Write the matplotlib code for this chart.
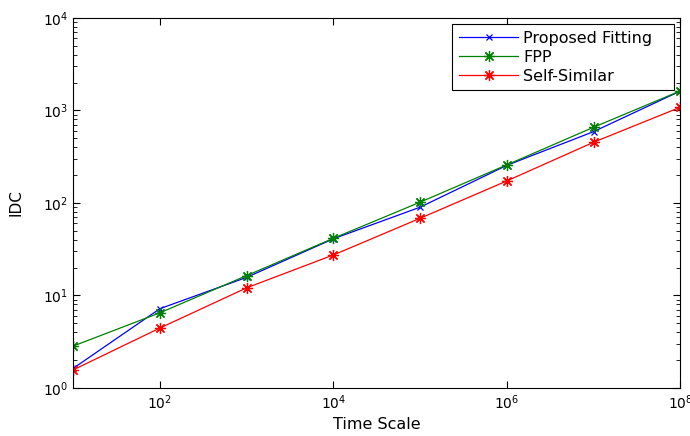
import matplotlib
matplotlib.use("Agg")
import matplotlib.pyplot as plt
from matplotlib.ticker import LogLocator, NullLocator, LogFormatterMathtext

plt.rcParams['font.family'] = ['DejaVu Sans']

# time scales (aggregation levels)
time_scale = [1e1, 1e2, 1e3, 1e4, 1e5, 1e6, 1e7, 1e8]

# index of dispersion for counts per model
idc_proposed = [1.63, 7.2, 15.7, 41.0, 90.0, 255.0, 590.0, 1620.0]
idc_fpp = [2.84, 6.5, 16.4, 41.5, 102.0, 258.0, 658.0, 1625.0]
idc_selfsim = [1.57, 4.45, 12.1, 27.4, 68.3, 173.0, 453.0, 1083.0]

x_ticks = [1e2, 1e4, 1e6, 1e8]

fig = plt.figure(figsize=(6.9, 4.36), dpi=100)
ax = fig.add_axes([0.106, 0.110, 0.880, 0.849])

asterisk = (8, 2, 0)
# trailing spaces keep the wide right margin inside the legend box
ax.plot(time_scale, idc_proposed, color='blue', lw=0.9, marker='x', ms=5,
        mew=0.9, label='Proposed Fitting   ')
ax.plot(time_scale, idc_fpp, color=(0, 0.5, 0), lw=0.9, marker=asterisk, ms=8,
        mew=0.9, label='FPP')
ax.plot(time_scale, idc_selfsim, color='red', lw=0.9, marker=asterisk, ms=8,
        mew=0.9, label='Self-Similar')

ax.set_xscale('log')
ax.set_yscale('log')
ax.set_xlim(1e1, 1e8)
ax.set_ylim(1e0, 1e4)

ax.set_xticks(x_ticks)
ax.xaxis.set_major_formatter(LogFormatterMathtext())
ax.xaxis.set_minor_locator(NullLocator())
ax.yaxis.set_major_locator(LogLocator(base=10, numticks=10))
ax.yaxis.set_minor_locator(LogLocator(base=10, subs=range(2, 10), numticks=20))

ax.tick_params(which='both', direction='in', top=True, right=True, labelsize=10)
ax.tick_params(which='major', length=5, width=0.8)
ax.tick_params(which='minor', length=3, width=0.6)
for s in ax.spines.values():
    s.set_linewidth(0.8)

ax.set_xlabel('Time Scale', fontsize=11.5, labelpad=4)
ax.set_ylabel('IDC', fontsize=11, labelpad=14)

leg = ax.legend(loc='upper right', fontsize=11.5, fancybox=False, framealpha=1,
                edgecolor='black', borderaxespad=0.38, handlelength=3.7,
                handletextpad=0.3, labelspacing=0.25, borderpad=0.42)
leg.get_frame().set_linewidth(0.8)

fig.savefig('out.png', dpi=100)
